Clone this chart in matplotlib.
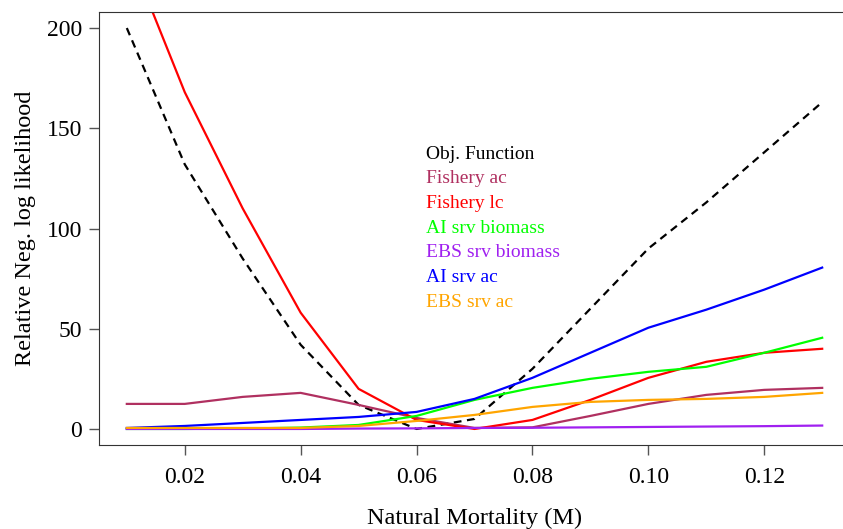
import numpy as np
import matplotlib.pyplot as plt

plt.rcParams['font.family'] = ['Liberation Serif', 'DejaVu Serif']

M = [0.01, 0.02, 0.03, 0.04, 0.05, 0.06, 0.07, 0.08, 0.09, 0.10, 0.11, 0.12, 0.13]

obj_fn = [200, 132, 85, 42, 12, 0, 5, 30, 60, 90, 113, 138, 163]
fishery_ac = [12.5, 12.5, 16, 18, 12, 5.5, 0.5, 0.8, 6.5, 12.5, 17, 19.5, 20.5]
fishery_lc = [240, 168, 110, 58, 20, 4.5, 0, 4.5, 14.5, 25.5, 33.5, 38, 40]
ai_biomass = [0, 0, 0.2, 0.7, 2, 6.5, 14.5, 20.5, 25, 28.5, 31, 38, 45.5]
ebs_biomass = [0, 0, 0, 0, 0.2, 0.3, 0.5, 0.6, 0.8, 1.0, 1.2, 1.4, 1.7]
ai_ac = [0.5, 1.5, 3, 4.5, 6, 8.5, 15, 25.5, 38, 50.5, 59.5, 69.5, 80.5]
ebs_ac = [0.5, 0.5, 0.5, 0.5, 1.5, 4, 7, 11, 13.5, 14.5, 15, 16, 18]

names = ['Obj. Function', 'Fishery ac', 'Fishery lc', 'AI srv biomass',
         'EBS srv biomass', 'AI srv ac', 'EBS srv ac']
colors = ['black', '#B03060', '#FF0000', '#00FF00', '#A020F0', '#0000FF', '#FFA500']

fig = plt.figure(figsize=(8.43, 5.29), dpi=100)
ax = fig.add_axes([99/843, 1 - 445/529, (850 - 99)/843, (445 - 12)/529])

lw = 1.6
ax.plot(M, obj_fn, color='black', ls=(0, (3.5, 2.5)), lw=lw)
series = [fishery_ac, fishery_lc, ai_biomass, ebs_biomass, ai_ac, ebs_ac]
for s, c in zip(series, colors[1:]):
    ax.plot(M, s, color=c, lw=lw)

ax.set_xlim(0.0052, 0.1348)
ax.set_ylim(-8, 208)
ax.set_xticks([0.02, 0.04, 0.06, 0.08, 0.10, 0.12])
ax.set_xticklabels(['0.02', '0.04', '0.06', '0.08', '0.10', '0.12'])
ax.set_yticks([0, 50, 100, 150, 200])
ax.tick_params(axis='x', length=7, width=1, pad=9, labelsize=17, color='#555555')
ax.tick_params(axis='y', length=7, width=1, pad=5, labelsize=17, color='#555555')
for sp in ax.spines.values():
    sp.set_color('#333333')

ax.set_xlabel('Natural Mortality (M)', fontsize=17.5, labelpad=14)
ax.set_ylabel('Relative Neg. log likelihood', fontsize=17.5, labelpad=8)

for i, (n, c) in enumerate(zip(names, colors)):
    ax.text(0.0617, 137 - i * 12.3, n, color=c, fontsize=14, va='center', ha='left')

fig.savefig('out.png', dpi=100)
